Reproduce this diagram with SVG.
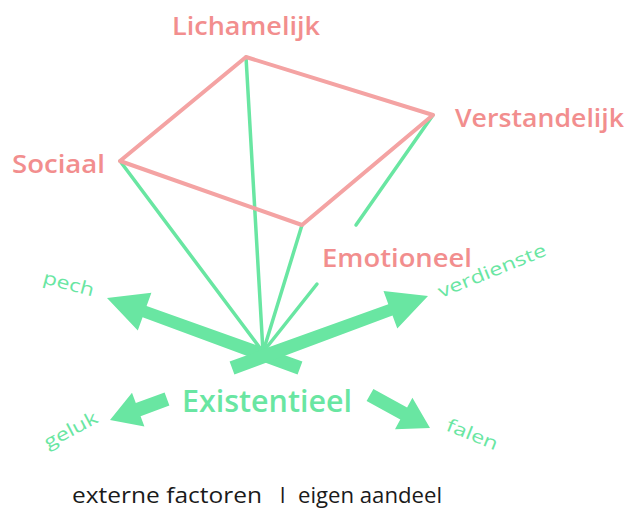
<svg xmlns="http://www.w3.org/2000/svg" width="628" height="513" viewBox="0 0 628 513">
<style>
.red{font-family:"Open Sans","Liberation Sans",sans-serif;font-weight:600;fill:#f28e8e}
.grn{font-family:"Open Sans","Liberation Sans",sans-serif;font-weight:600;fill:#69e6a2}
.sm{font-family:"Open Sans","Liberation Sans",sans-serif;font-weight:500;fill:#69e6a2}
.gl{stroke:#69e6a2;stroke-width:3.5;fill:none;stroke-linecap:round}
.rl{stroke:#f4a3a3;stroke-width:4;fill:none;stroke-linejoin:round}
.arr{fill:#69e6a2}
.blk{font-family:"Open Sans","Liberation Sans",sans-serif;fill:#1a1a1a}
</style>
<rect width="628" height="513" fill="#ffffff"/>
<g id="connectors">
<line class="gl" x1="263" y1="352" x2="120" y2="161"/>
<line class="gl" x1="263" y1="352" x2="246" y2="57"/>
<line class="gl" x1="263" y1="352" x2="302" y2="225"/>
<line class="gl" x1="433" y1="115" x2="356" y2="225"/>
<line class="gl" x1="317" y1="284" x2="263" y2="352"/>
<polygon class="rl" points="246,57 433,115 302,225 120,161"/>
<polygon id="arrow-pech" class="arr" points="302.4,361.4 146.6,306 151.4,292.8 107,298 137.8,330.4 142.6,317.2 297.6,374.6"/>
<polygon id="arrow-verdienste" class="arr" points="229.6,361.4 388.3,304.2 383.5,291 428,296 397.3,328.6 392.5,315.4 234.4,374.6"/>
<polygon id="arrow-geluk" class="arr" points="164.6,392.4 135.8,403.1 132,392.8 110,420 144.4,426.6 140.6,416.3 169.4,405.6"/>
<polygon id="arrow-falen" class="arr" points="373.4,388.9 407.1,407.4 412.4,397.7 430,428 395,429.3 400.3,419.6 366.6,401.1"/>
</g>
<g id="lichamelijk"><text class="red" x="172" y="35" font-size="25" textLength="148" lengthAdjust="spacingAndGlyphs">Lichamelijk</text></g>
<g id="verstandelijk"><text class="red" x="455" y="127" font-size="25" textLength="169" lengthAdjust="spacingAndGlyphs">Verstandelijk</text></g>
<g id="sociaal"><text class="red" x="12" y="173" font-size="25" textLength="93" lengthAdjust="spacingAndGlyphs">Sociaal</text></g>
<g id="emotioneel"><text class="red" x="322" y="267" font-size="25" textLength="150" lengthAdjust="spacingAndGlyphs">Emotioneel</text></g>
<g id="existentieel"><text class="grn" x="182" y="412" font-size="30" textLength="170" lengthAdjust="spacingAndGlyphs">Existentieel</text></g>
<g id="pech"><text class="sm" x="42" y="283" font-size="18" transform="rotate(15 42 283)" textLength="52" lengthAdjust="spacingAndGlyphs">pech</text></g>
<g id="verdienste"><text class="sm" x="441" y="298" font-size="18" transform="rotate(-22 441 298)" textLength="115" lengthAdjust="spacingAndGlyphs">verdienste</text></g>
<g id="geluk"><text class="sm" x="48" y="449" font-size="18" transform="rotate(-28 48 449)" textLength="58" lengthAdjust="spacingAndGlyphs">geluk</text></g>
<g id="falen"><text class="sm" x="445" y="430" font-size="18" transform="rotate(22 445 430)" textLength="54" lengthAdjust="spacingAndGlyphs">falen</text></g>
<g id="footer"><text class="blk" y="503" font-size="21"><tspan x="72" textLength="190" lengthAdjust="spacingAndGlyphs">externe factoren</tspan><tspan x="280">l</tspan><tspan x="298" textLength="144" lengthAdjust="spacingAndGlyphs">eigen aandeel</tspan></text></g>
</svg>
